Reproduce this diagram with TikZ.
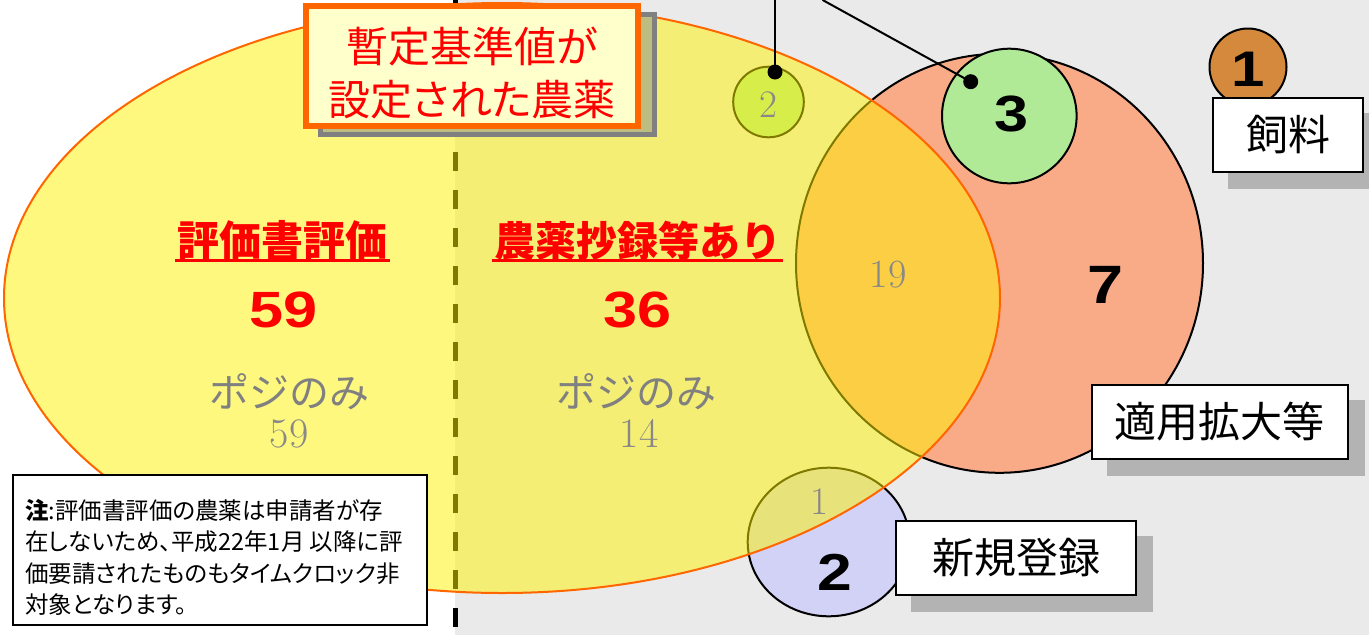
\documentclass[tikz,border=0pt]{standalone}
\usepackage{fontspec}
\usetikzlibrary{shapes.geometric}
\newfontfamily\jpp{Noto Sans CJK JP}[RawFeature=+palt]
\newfontfamily\jpm{Noto Sans CJK JP}
\newfontfamily\lsans{Liberation Sans}
\newcommand\myfs[2]{\fontsize{#1}{#2}\selectfont}
\newcommand\wide[1]{\scalebox{1.2}[1]{#1}}
\definecolor{bggray}{RGB}{234,234,234}
\definecolor{salmon}{RGB}{249,171,135}
\definecolor{lgreen}{RGB}{176,234,150}
\definecolor{lav}{RGB}{210,210,246}
\definecolor{brownc}{RGB}{212,137,60}
\definecolor{orng}{RGB}{255,102,0}
\definecolor{lblfill}{RGB}{255,255,204}
\definecolor{shd}{RGB}{179,179,179}
\definecolor{shdin}{RGB}{189,189,130}
\definecolor{midgray}{RGB}{128,128,128}
\definecolor{numgray}{RGB}{136,136,136}
\begin{document}
\begin{tikzpicture}[x=1pt,y=-1pt,
  circ/.style={ellipse, draw=black, line width=2pt, inner sep=0pt, outer sep=0pt},
  box/.style={draw=black, line width=2pt, fill=white, inner sep=0pt},
  boxshadow/.style={fill=shd, inner sep=0pt},
  boxtext/.style={font=\jpm\myfs{42}{50}},
  graynum/.style={text=numgray, inner sep=0pt},
  bignum/.style={inner sep=0pt},
  heading/.style={text=red, inner xsep=2pt, inner ysep=0pt},
  posi/.style={text=midgray, font=\jpm\myfs{40}{48}, inner sep=0pt},
  dot/.style={circle, fill=black, minimum size=15pt, inner sep=0pt},
  leader/.style={draw=black, line width=2pt},
]
\useasboundingbox (0,0) rectangle (1369,635);
% background halves
\fill[white] (0,0) rectangle (455,635);
\fill[bggray] (455,0) rectangle (1369,635);
% divider
\coordinate (divtop) at (455,0);
\coordinate (divbot) at (455,635);
\draw[line width=5pt, dash pattern=on 19pt off 19pt] (divtop) -- (divbot);

% circles below the transparent ellipse
\node[circ, fill=salmon, minimum width=407pt, minimum height=419pt] (apply) at (999.5,263.3) {};
\node[circ, fill=lgreen, minimum width=70.6pt, minimum height=70.6pt] (small) at (768.5,102) {};
\node[circ, fill=lav, minimum width=162pt, minimum height=148.6pt] (newreg) at (828.7,542) {};

% transparent yellow ellipse
\node[ellipse, fill=yellow, fill opacity=0.5, draw=orng, line width=2pt, inner sep=0pt,
      minimum width=996pt, minimum height=590pt] (yel) at (502,298) {};

% circles above
\node[circ, fill=lgreen, minimum width=134.6pt, minimum height=134.6pt] (three) at (1009.3,116) {};
\node[circ, fill=brownc, minimum width=77pt, minimum height=77pt] (feedc) at (1248,67) {};

% label box
\node[draw=midgray, line width=5pt, fill=shdin, inner sep=0pt,
      minimum width=334pt, minimum height=120pt] (lblsh) at (487.5,74.5) {};
\node[draw=orng, line width=6pt, fill=lblfill, inner sep=0pt,
      minimum width=332pt, minimum height=120pt] (lbl) at (472,66) {};
\node[text=red, align=center, inner sep=0pt, font=\jpp\myfs{42}{53.5}] (lbltext) at (472,73)
  {暫定基準値が\\設定された農薬};

% side boxes
\node[boxshadow, minimum width=152pt, minimum height=76pt] (feedsh) at (1304,151) {};
\node[box, boxtext, minimum width=150pt, minimum height=74pt] (feed) at (1288,135) {飼料};
\node[boxshadow, minimum width=257.5pt, minimum height=76pt] (applysh) at (1235.75,438) {};
\node[box, boxtext, minimum width=255.5pt, minimum height=74pt] (applybox) at (1219.75,422) {適用拡大等};
\node[boxshadow, minimum width=242pt, minimum height=76pt] (newsh) at (1032,574) {};
\node[box, boxtext, minimum width=240pt, minimum height=74pt] (newbox) at (1016,558) {新規登録};

% note
\node[box, minimum width=413.5pt, minimum height=150pt] (note) at (219.75,550) {};
\node[anchor=north west, inner sep=0pt, align=left, font=\jpp\myfs{23.5}{31.5}] (notetext) at (25,499)
  {{\bfseries 注}:評価書評価の農薬は申請者が存\\在しないため、平成22年1月 以降に評\\価要請されたものもタイムクロック非\\対象となります。};

% headings
\node[heading, font=\jpm\bfseries\myfs{42}{50}] (h1) at (282.5,240.5) {評価書評価};
\draw[red, line width=3pt] (h1.south west) -- (h1.south east);
\node[heading, font=\jpm\bfseries\myfs{41}{50}] (h2) at (637.5,240.5) {農薬抄録等あり};
\draw[red, line width=3pt] (h2.south west) -- (h2.south east);

% numbers
\node[bignum, text=red, font=\lsans\bfseries\myfs{51}{60}] (n1) at (284,310) {\wide{59}};
\node[bignum, text=red, font=\lsans\bfseries\myfs{51}{60}] (n2) at (638,310) {\wide{36}};
\node[posi] (p1) at (289,392) {ポジのみ};
\node[posi] (p2) at (636,392) {ポジのみ};
\node[graynum, font=\myfs{42}{50}] (g1) at (289,433.5) {59};
\node[graynum, font=\myfs{42}{50}] (g2) at (639,433.5) {14};
\node[graynum, font=\myfs{40}{48}] (g19) at (888,274.5) {19};
\node[graynum, font=\myfs{39}{46}] (g2s) at (768.5,104.5) {2};
\node[graynum, font=\myfs{39}{46}] (g1s) at (819,501.5) {1};
\node[bignum, font=\lsans\bfseries\myfs{51}{60}] (b3) at (1012,113.5) {\wide{3}};
\node[bignum, font=\lsans\bfseries\myfs{54}{60}] (b7) at (1105.7,284.5) {\wide{7}};
\node[bignum, font=\lsans\bfseries\myfs{50}{60}] (b1) at (1248,69.5) {\wide{1}};
\node[bignum, font=\lsans\bfseries\myfs{52}{60}] (b2) at (835,572) {\wide{2}};

% leaders
\coordinate (t1) at (775,0);
\coordinate (t2) at (822.6,0);
\node[dot] (d1) at (775,72) {};
\node[dot] (d2) at (970.7,81.7) {};
\draw[leader] (t1) -- (d1.center);
\draw[leader] (t2) -- (d2.center);
\end{tikzpicture}
\end{document}
